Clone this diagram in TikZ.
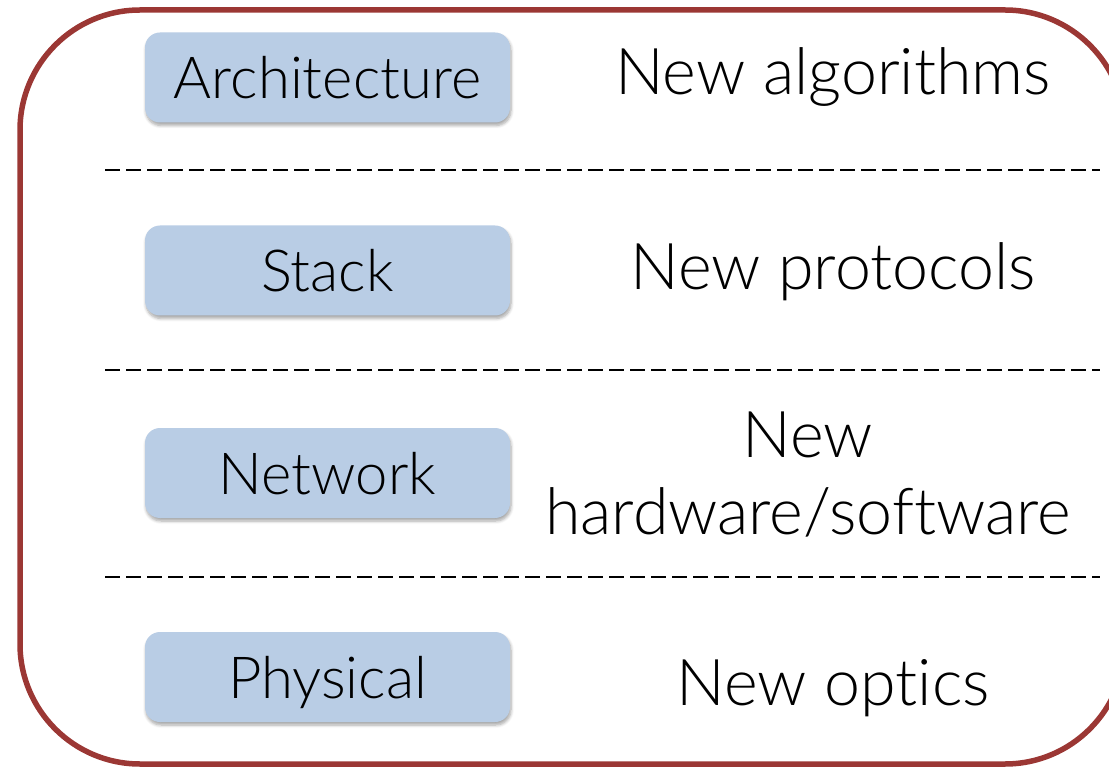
\documentclass[tikz,border=0pt]{standalone}
\usepackage{fontspec}
\setmainfont{Lato}[UprightFont=* Light, RawFeature={-liga;-clig;-dlig;-calt}]
\usetikzlibrary{shadows.blur}
\definecolor{frame}{RGB}{155,55,52}
\definecolor{layerfill}{RGB}{185,205,229}
\tikzset{
  layer/.style={fill=layerfill, rounded corners=15pt, minimum width=365pt,
    minimum height=90pt, inner sep=0pt, text height=42pt, text depth=0pt,
    font=\fontsize{58}{70}\selectfont,
    blur shadow={shadow xshift=1pt, shadow yshift=-3pt, shadow blur steps=6,
      shadow opacity=35, shadow blur radius=3pt}},
  role/.style={anchor=base, inner sep=0pt, font=\fontsize{64.5}{76}\selectfont},
  divider/.style={line width=2pt, dash pattern=on 15pt off 6pt}
}
\begin{document}
\begin{tikzpicture}[x=1pt,y=-1pt]
  \useasboundingbox (0,0) rectangle (1109,767);
  \clip (0,0) rectangle (1109,767);
  % outer frame
  \draw[frame, line width=5.5pt, rounded corners=120pt] (20,10) rectangle (1125,764);
  % layer boxes
  \node[layer] (arch) at (327.5,77.5) {Architecture};
  \node[layer] (stack) at (327.5,270.5) {Stack};
  \node[layer] (net) at (327.5,473) {Network};
  \node[layer] (phys) at (327.5,677) {Physical};
  % what changes at each layer
  \node[role] (alg) at (833,95) {New algorithms};
  \node[role] (proto) at (833,290) {New protocols};
  \node[role] (hw1) at (808,457) {New};
  \node[role] (hw2) at (808,534) {hardware/software};
  \node[role] (opt) at (833,705) {New opt\kern0pt ics};
  % dividers
  \coordinate (d1a) at (105,170); \coordinate (d1b) at (1100,170);
  \coordinate (d2a) at (105,370); \coordinate (d2b) at (1100,370);
  \coordinate (d3a) at (105,577); \coordinate (d3b) at (1100,577);
  \draw[divider] (d1a) -- (d1b);
  \draw[divider] (d2a) -- (d2b);
  \draw[divider] (d3a) -- (d3b);
\end{tikzpicture}
\end{document}
